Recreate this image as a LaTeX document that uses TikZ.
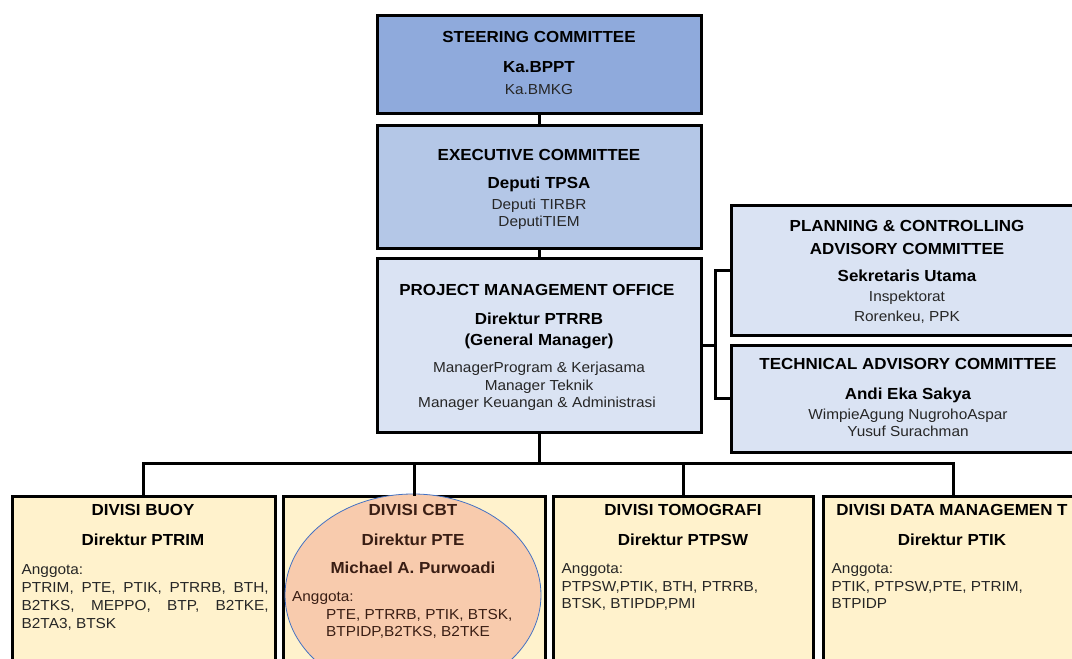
\documentclass[tikz,border=0pt]{standalone}
\usepackage{fontspec}
\setmainfont{Liberation Sans}[FakeStretch=1.06]
\usetikzlibrary{shapes.geometric}
\definecolor{scfill}{HTML}{8FAADC}
\definecolor{ecfill}{HTML}{B4C7E7}
\definecolor{pmfill}{HTML}{DAE3F3}
\definecolor{dvfill}{HTML}{FFF2CC}
\definecolor{elfill}{HTML}{F8CBAD}
\definecolor{elline}{HTML}{4472C4}
\definecolor{txtgray}{HTML}{262626}
\definecolor{eltext}{HTML}{3A1E14}
\begin{document}
\begin{tikzpicture}[x=1pt,y=-1pt,
  box/.style={draw=black, line width=3pt, rectangle, inner sep=0pt},
  conn/.style={draw=black, line width=3pt, line cap=rect},
  ttl/.style={inner sep=0pt, anchor=base, font=\fontsize{16}{18}\selectfont\bfseries},
  txt/.style={inner sep=0pt, anchor=base, text=txtgray, font=\fontsize{14.5}{16}\selectfont},
  ltxt/.style={txt, anchor=base west},
]
\clip (0,0) rectangle (1072,659);
\fill[white] (0,0) rectangle (1072,659);

% boxes
\node[box, fill=scfill, minimum width=324pt, minimum height=98pt] (sc) at (539,64) {};
\node[box, fill=ecfill, minimum width=324pt, minimum height=123pt] (ec) at (539,186.5) {};
\node[box, fill=pmfill, minimum width=324pt, minimum height=174pt] (pmo) at (539,345) {};
\node[box, fill=pmfill, minimum width=352pt, minimum height=130pt] (pca) at (907,270) {};
\node[box, fill=pmfill, minimum width=352pt, minimum height=107pt] (tac) at (907,398.5) {};
\node[box, fill=dvfill, minimum width=263pt, minimum height=224pt] (buoy) at (143.5,608) {};
\node[box, fill=dvfill, minimum width=262pt, minimum height=224pt] (cbt) at (414,608) {};
\node[box, fill=dvfill, minimum width=260pt, minimum height=224pt] (tomo) at (683,608) {};
\node[box, fill=dvfill, minimum width=260pt, minimum height=224pt] (data) at (953,608) {};
\node[ellipse, draw=elline, line width=0.8pt, fill=elfill, minimum width=256pt, minimum height=202pt, inner sep=0pt] (cbtell) at (413,595) {};

% connectors
\coordinate (rb) at (715,345);
\coordinate (bus) at (539,463.5);
\draw[conn] (sc.south) -- (ec.north);
\draw[conn] (ec.south) -- (pmo.north);
\draw[conn] (pmo.east) -- (rb);
\draw[conn] (pca.west) -| (rb) |- (tac.west);
\draw[conn] (pmo.south) -- (bus);
\draw[conn] (buoy.north) |- (bus) -| (data.north);
\draw[conn] (cbt.north) -- (cbt.north |- bus);
\draw[conn] (tomo.north) -- (tomo.north |- bus);

% steering
\node[ttl] (sc1) at (539,42.7) {STEERING  COMMITTEE};
\node[ttl] (sc2) at (539,72.7) {Ka.BPPT};
\node[txt] (sc3) at (539,94.3) {Ka.BMKG};
% executive
\node[ttl] (ec1) at (539,160) {EXECUTIVE  COMMITTEE};
\node[ttl] (ec2) at (539,188.3) {Deputi TPSA};
\node[txt] (ec3) at (539,209) {Deputi TIRBR};
\node[txt] (ec4) at (539,226.7) {DeputiTIEM};
% pmo
\node[ttl] (pm1) at (537,295.7) {PROJECT MANAGEMENT  OFFICE};
\node[ttl] (pm2) at (539,324) {Direktur PTRRB};
\node[ttl] (pm3) at (539,345) {(General Manager)};
\node[txt] (pm4) at (539,372.3) {ManagerProgram \& Kerjasama};
\node[txt] (pm5) at (539,390) {Manager Teknik};
\node[txt] (pm6) at (537,407.7) {Manager Keuangan \& Administrasi};
% planning
\node[ttl] (pc1) at (907,231.7) {PLANNING \& CONTROLLING};
\node[ttl] (pc2) at (907,254) {ADVISORY COMMITTEE};
\node[ttl] (pc3) at (907,281.7) {Sekretaris Utama};
\node[txt] (pc4) at (907,301.7) {Inspektorat};
\node[txt] (pc5) at (907,321) {Rorenkeu, PPK};
% technical
\node[ttl] (ta1) at (908,369.3) {TECHNICAL  ADVISORY COMMITTEE};
\node[ttl] (ta2) at (908,399) {Andi Eka Sakya};
\node[txt] (ta3) at (908,419) {WimpieAgung NugrohoAspar};
\node[txt] (ta4) at (908,436.7) {Yusuf Surachman};
% buoy
\node[ttl] (bu1) at (143,515.7) {DIVISI BUOY};
\node[ttl] (bu2) at (143,545.7) {Direktur PTRIM};
\node[ltxt] (bu3) at (21.5,574) {Anggota:};
\node[ltxt] (bu4) at (21.5,592) {\makebox[247pt][s]{PTRIM, PTE, PTIK, PTRRB, BTH,}};
\node[ltxt] (bu5) at (21.5,610) {\makebox[247pt][s]{B2TKS, MEPPO, BTP, B2TKE,}};
\node[ltxt] (bu6) at (21.5,628) {B2TA3, BTSK};
% cbt
\node[ttl, text=eltext] (cb1) at (413,515.7) {DIVISI CBT};
\node[ttl, text=eltext] (cb2) at (413,545) {Direktur PTE};
\node[ttl, text=eltext] (cb3) at (413,573.3) {Michael A. Purwoadi};
\node[ltxt, text=eltext] (cb4) at (292,601.7) {Anggota:};
\node[ltxt, text=eltext] (cb5) at (326,619) {PTE, PTRRB, PTIK, BTSK,};
\node[ltxt, text=eltext] (cb6) at (326,636.7) {BTPIDP,B2TKS, B2TKE};
% tomografi
\node[ttl] (to1) at (683,515.7) {DIVISI  TOMOGRAFI};
\node[ttl] (to2) at (683,545) {Direktur PTPSW};
\node[ltxt] (to3) at (561.5,573.3) {Anggota:};
\node[ltxt] (to4) at (561.5,591) {PTPSW,PTIK, BTH, PTRRB,};
\node[ltxt] (to5) at (561.5,608.3) {BTSK, BTIPDP,PMI};
% data
\node[ttl] (da1) at (952,515.7) {DIVISI DATA MANAGEMEN T};
\node[ttl] (da2) at (952,545) {Direktur PTIK};
\node[ltxt] (da3) at (831.5,573.3) {Anggota:};
\node[ltxt] (da4) at (831.5,591) {PTIK, PTPSW,PTE, PTRIM,};
\node[ltxt] (da5) at (831.5,608.3) {BTPIDP};
\end{tikzpicture}
\end{document}
